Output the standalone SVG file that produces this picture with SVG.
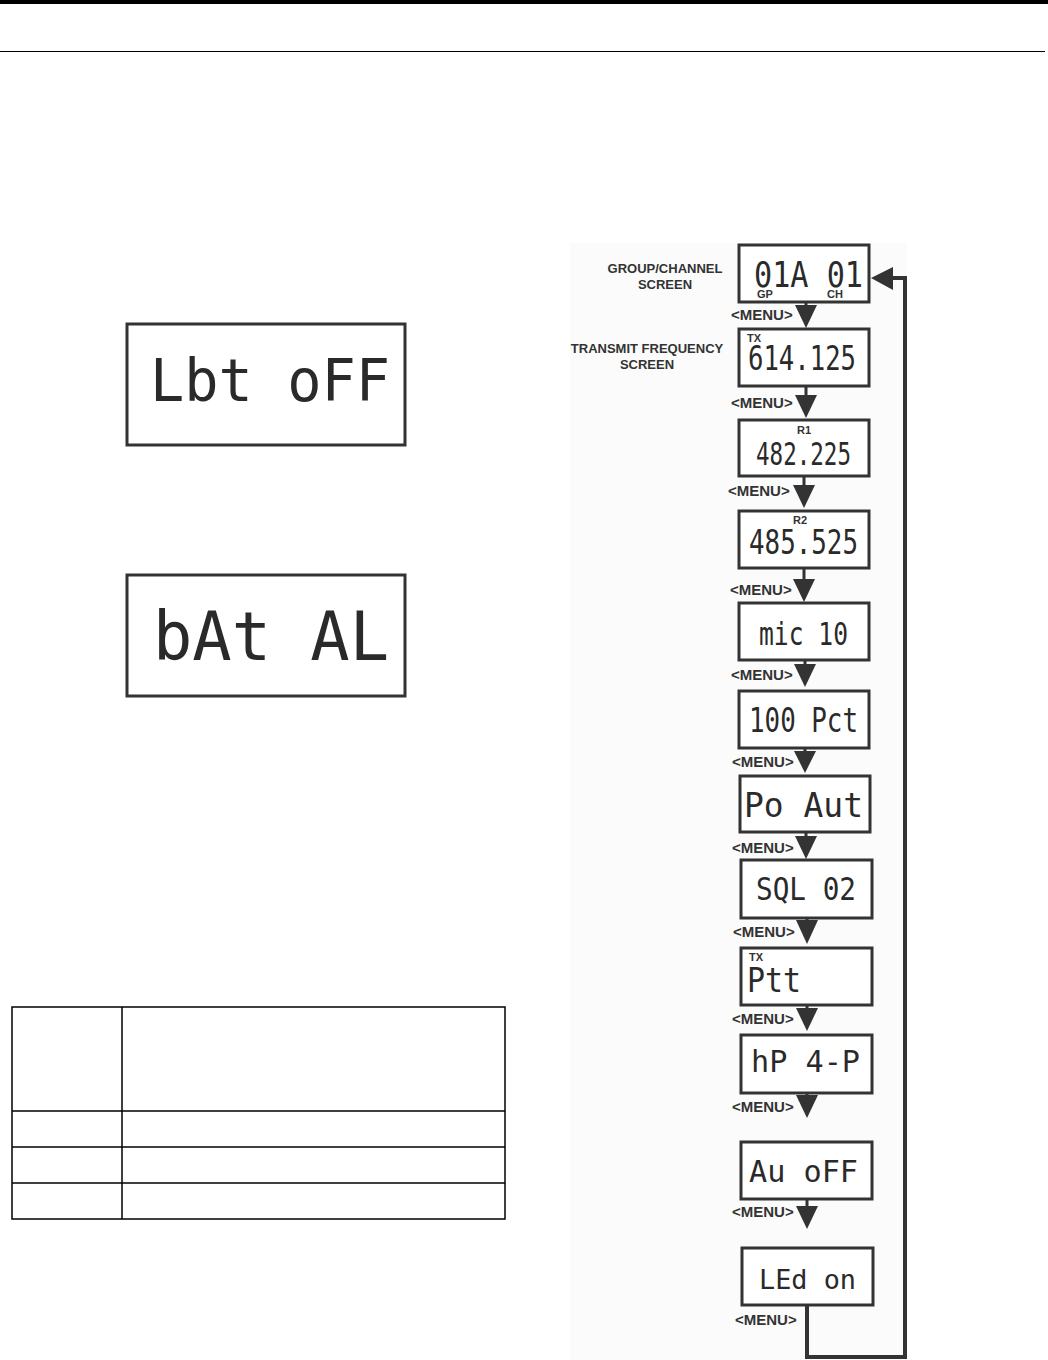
<svg xmlns="http://www.w3.org/2000/svg" width="1048" height="1360" viewBox="0 0 1048 1360">
<defs>
<style>
.lcd{fill:#fff;stroke:#333;stroke-width:3}
.seg{font-family:"DejaVu Sans Mono","Liberation Mono",monospace;fill:#2a2a2a}
.lab{font-family:"Liberation Sans",Arial,sans-serif;font-weight:bold;fill:#333}
.menu{font-family:"Liberation Sans",Arial,sans-serif;font-weight:bold;font-size:15px;fill:#333}
.sm{font-family:"Liberation Sans",Arial,sans-serif;font-weight:bold;font-size:11px;fill:#333}
.wire{fill:none;stroke:#333;stroke-width:4}
.stem{stroke:#333;stroke-width:3}
.tri{fill:#333}
.tbl{fill:none;stroke:#000;stroke-width:1.5}
</style>
</defs>
<rect x="0" y="0" width="1048" height="1360" fill="#fff"/>
<rect x="0" y="0" width="1048" height="4" fill="#000"/>
<line x1="0" y1="51.5" x2="1045" y2="51.5" stroke="#000" stroke-width="1.2"/>
<rect x="570" y="243" width="337" height="1117" fill="#fbfbfb"/>

<g id="lbt-off">
<rect class="lcd" x="127" y="324" width="278" height="121"/>
<text class="seg" x="150" y="401" font-size="59" textLength="240" lengthAdjust="spacingAndGlyphs">Lbt oFF</text>
</g>
<g id="bat-al">
<rect class="lcd" x="127" y="575" width="278" height="121"/>
<text class="seg" x="153" y="660" font-size="68" textLength="236" lengthAdjust="spacingAndGlyphs">bAt AL</text>
</g>

<g id="table">
<rect class="tbl" x="12" y="1007" width="493" height="212"/>
<line class="tbl" x1="122" y1="1007" x2="122" y2="1219"/>
<line class="tbl" x1="12" y1="1111" x2="505" y2="1111"/>
<line class="tbl" x1="12" y1="1147" x2="505" y2="1147"/>
<line class="tbl" x1="12" y1="1183" x2="505" y2="1183"/>
</g>

<g id="labels">
<text class="lab" x="665" y="273" font-size="13" text-anchor="middle">GROUP/CHANNEL</text>
<text class="lab" x="665" y="289" font-size="13" text-anchor="middle">SCREEN</text>
<text class="lab" x="647" y="353" font-size="13" text-anchor="middle">TRANSMIT FREQUENCY</text>
<text class="lab" x="647" y="369" font-size="13" text-anchor="middle">SCREEN</text>
</g>

<g id="connectors">
<g id="a1"><line class="stem" x1="806" y1="302" x2="806" y2="308"/><polygon class="tri" points="795,305 817,305 806,328"/><text class="menu" x="731" y="320">&lt;MENU&gt;</text></g>
<g id="a2"><line class="stem" x1="806" y1="387" x2="806" y2="398"/><polygon class="tri" points="795,395 817,395 806,418"/><text class="menu" x="731" y="408">&lt;MENU&gt;</text></g>
<g id="a3"><line class="stem" x1="804" y1="476" x2="804" y2="488"/><polygon class="tri" points="793,485 815,485 804,508"/><text class="menu" x="728" y="496">&lt;MENU&gt;</text></g>
<g id="a4"><line class="stem" x1="804" y1="568" x2="804" y2="582"/><polygon class="tri" points="793,579 815,579 804,602"/><text class="menu" x="730" y="595">&lt;MENU&gt;</text></g>
<g id="a5"><line class="stem" x1="805" y1="660" x2="805" y2="667"/><polygon class="tri" points="794,664 816,664 805,687"/><text class="menu" x="731" y="680">&lt;MENU&gt;</text></g>
<g id="a6"><line class="stem" x1="805" y1="748" x2="805" y2="754"/><polygon class="tri" points="794,751 816,751 805,773"/><text class="menu" x="732" y="767">&lt;MENU&gt;</text></g>
<g id="a7"><line class="stem" x1="806" y1="832" x2="806" y2="839"/><polygon class="tri" points="795,836 817,836 806,859"/><text class="menu" x="732" y="853">&lt;MENU&gt;</text></g>
<g id="a8"><line class="stem" x1="807" y1="918" x2="807" y2="923"/><polygon class="tri" points="796,920 818,920 807,944"/><text class="menu" x="733" y="937">&lt;MENU&gt;</text></g>
<g id="a9"><line class="stem" x1="807" y1="1005" x2="807" y2="1011"/><polygon class="tri" points="796,1008 818,1008 807,1031"/><text class="menu" x="732" y="1024">&lt;MENU&gt;</text></g>
<g id="a10"><line class="stem" x1="807" y1="1093" x2="807" y2="1098"/><polygon class="tri" points="796,1095 818,1095 807,1118"/><text class="menu" x="732" y="1112">&lt;MENU&gt;</text></g>
<g id="a11"><line class="stem" x1="807" y1="1199" x2="807" y2="1209"/><polygon class="tri" points="796,1206 818,1206 807,1229"/><text class="menu" x="732" y="1217">&lt;MENU&gt;</text></g>
<g id="loop">
<polyline class="wire" points="807,1305 807,1357 905,1357 905,278 890,278"/>
<polygon class="tri" points="871,278 893,267 893,290"/>
<text class="menu" x="735" y="1325">&lt;MENU&gt;</text>
</g>
</g>

<g id="s-gpch">
<rect class="lcd" x="739" y="245" width="130" height="57"/>
<text class="seg" x="754" y="287" font-size="36" textLength="109" lengthAdjust="spacingAndGlyphs">01A 01</text>
<text class="sm" x="757" y="298">GP</text>
<text class="sm" x="827" y="298">CH</text>
</g>
<g id="s-tx">
<rect class="lcd" x="739" y="329" width="130" height="57"/>
<text class="sm" x="747" y="342">TX</text>
<text class="seg" x="748" y="370" font-size="34" textLength="108" lengthAdjust="spacingAndGlyphs">614.125</text>
</g>
<g id="s-r1">
<rect class="lcd" x="739" y="420" width="130" height="56"/>
<text class="sm" x="804" y="434" text-anchor="middle">R1</text>
<text class="seg" x="756" y="465" font-size="32" textLength="95" lengthAdjust="spacingAndGlyphs">482.225</text>
</g>
<g id="s-r2">
<rect class="lcd" x="739" y="511" width="130" height="57"/>
<text class="sm" x="800" y="524" text-anchor="middle">R2</text>
<text class="seg" x="749" y="554" font-size="33" textLength="109" lengthAdjust="spacingAndGlyphs">485.525</text>
</g>
<g id="s-mic">
<rect class="lcd" x="739" y="603" width="130" height="57"/>
<text class="seg" x="759" y="645" font-size="32" textLength="89" lengthAdjust="spacingAndGlyphs">mic 10</text>
</g>
<g id="s-pct">
<rect class="lcd" x="739" y="691" width="130" height="57"/>
<text class="seg" x="749" y="732" font-size="33" textLength="109" lengthAdjust="spacingAndGlyphs">100 Pct</text>
</g>
<g id="s-po">
<rect class="lcd" x="740" y="776" width="130" height="56"/>
<text class="seg" x="744" y="817" font-size="33" textLength="119" lengthAdjust="spacingAndGlyphs">Po  Aut</text>
</g>
<g id="s-sql">
<rect class="lcd" x="741" y="860" width="131" height="58"/>
<text class="seg" x="756" y="900" font-size="32" textLength="100" lengthAdjust="spacingAndGlyphs">SQL 02</text>
</g>
<g id="s-ptt">
<rect class="lcd" x="741" y="948" width="131" height="57"/>
<text class="sm" x="749" y="961">TX</text>
<text class="seg" x="747" y="992" font-size="33" textLength="54" lengthAdjust="spacingAndGlyphs">Ptt</text>
</g>
<g id="s-hp">
<rect class="lcd" x="741" y="1035" width="131" height="58"/>
<text class="seg" x="751" y="1072" font-size="30" textLength="109" lengthAdjust="spacingAndGlyphs">hP 4-P</text>
</g>
<g id="s-au">
<rect class="lcd" x="741" y="1142" width="131" height="57"/>
<text class="seg" x="749" y="1182" font-size="31" textLength="109" lengthAdjust="spacingAndGlyphs">Au oFF</text>
</g>
<g id="s-led">
<rect class="lcd" x="742" y="1248" width="131" height="57"/>
<text class="seg" x="759" y="1289" font-size="26" textLength="97" lengthAdjust="spacingAndGlyphs">LEd on</text>
</g>
</svg>
